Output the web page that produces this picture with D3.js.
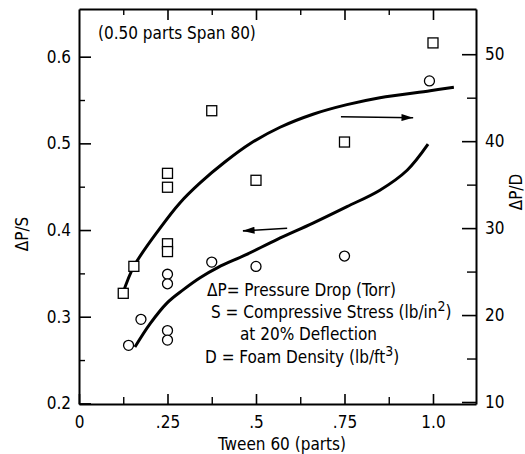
<!DOCTYPE html>
<html><head><meta charset="utf-8">
<script src="https://cdn.jsdelivr.net/npm/d3@7"></script>
<style>
body{margin:0;background:#fff}
svg{display:block;background:#fff}
text{font-family:"Liberation Sans Narrow","DejaVu Sans Condensed","Arial Narrow",sans-serif;fill:#000}
</style>
</head><body>
<svg id="c" width="525" height="454"></svg>
<script>
// ---------- data ----------
const xTicks = [0, 0.25, 0.5, 0.75, 1.0];
const xTickLabels = ["0", ".25", ".5", ".75", "1.0"];
const xMinor = [0.125, 0.375, 0.625, 0.875];
const leftTicks = [0.2, 0.3, 0.4, 0.5, 0.6];
const leftTickLabels = ["0.2", "0.3", "0.4", "0.5", "0.6"];
const leftMinor = [0.25, 0.35, 0.45, 0.55];
const rightTicks = [10, 20, 30, 40, 50];
const rightMinor = [15, 25, 35, 45];

// ΔP/D (squares, right axis)
const squareX = [0.125, 0.155, 0.25, 0.25, 0.25, 0.25, 0.375, 0.5, 0.75, 1.0];
const squareY = [22.5, 25.6, 36.3, 34.7, 28.2, 27.3, 43.5, 35.5, 39.9, 51.3];
// ΔP/S (circles, left axis)
const circleX = [0.14, 0.175, 0.25, 0.25, 0.25, 0.25, 0.375, 0.5, 0.75, 0.99];
const circleY = [0.267, 0.297, 0.349, 0.338, 0.284, 0.273, 0.363, 0.358, 0.370, 0.572];

// fitted curves
const curveDX = [0.124, 0.155, 0.229, 0.285, 0.342, 0.412, 0.483, 0.568, 0.661, 0.757, 0.850, 0.992, 1.059];
const curveDY = [22.5, 25.6, 30.0, 32.9, 35.2, 37.6, 39.7, 41.6, 43.1, 44.2, 45.0, 45.8, 46.2];
const curveSX = [0.158, 0.201, 0.249, 0.294, 0.342, 0.393, 0.469, 0.559, 0.661, 0.757, 0.850, 0.927, 0.986];
const curveSY = [0.265, 0.292, 0.316, 0.331, 0.345, 0.357, 0.371, 0.389, 0.408, 0.427, 0.446, 0.469, 0.499];

// arrows: [x1, y1, x2, y2] (tip at x2,y2)
const arrowD = [0.74, 42.8, 0.944, 42.7];
const arrowS = [0.588, 0.402, 0.463, 0.399];

// ---------- layout ----------
const L = 79, R = 476, T = 9, B = 404;
const svg = d3.select("#c");
const x = d3.scaleLinear().domain([0, 1.1215]).range([L, R]);
const yS = d3.scaleLinear().domain([0.1993, 0.655]).range([B, T]);
const yD = d3.scaleLinear().domain([9.77, 55.2]).range([B, T]);

const fs = 17;

function styleAxis(g) {
  g.selectAll("path.domain").attr("stroke", "#000").attr("stroke-width", 2);
  g.selectAll(".tick line").attr("stroke", "#000").attr("stroke-width", 1.6);
  g.selectAll(".tick text").attr("font-size", fs).attr("font-family", null);
}
function minor(axis, vals, size, tr) {
  svg.append("g").attr("transform", tr)
    .call(axis.tickValues(vals).tickSize(size).tickFormat(""))
    .call(g => { g.select(".domain").remove(); g.selectAll(".tick line").attr("stroke", "#000").attr("stroke-width", 1.4); });
}

// bottom axis
svg.append("g").attr("transform", `translate(0,${B})`)
  .call(d3.axisBottom(x).tickValues(xTicks).tickFormat((d, i) => xTickLabels[i]).tickSizeInner(-10).tickSizeOuter(0).tickPadding(12))
  .call(styleAxis);
minor(d3.axisBottom(x), xMinor, -7, `translate(0,${B})`);
// top axis
svg.append("g").attr("transform", `translate(0,${T})`)
  .call(d3.axisTop(x).tickValues(xTicks.slice(1)).tickFormat("").tickSizeInner(-11).tickSizeOuter(0))
  .call(styleAxis);
minor(d3.axisTop(x), xMinor, -6, `translate(0,${T})`);
// left axis
svg.append("g").attr("transform", `translate(${L},0)`)
  .call(d3.axisLeft(yS).tickValues(leftTicks).tickFormat((d, i) => leftTickLabels[i]).tickSizeInner(-12).tickSizeOuter(0).tickPadding(8))
  .call(styleAxis);
minor(d3.axisLeft(yS), leftMinor, -6, `translate(${L},0)`);
// right axis
svg.append("g").attr("transform", `translate(${R},0)`)
  .call(d3.axisRight(yD).tickValues(rightTicks).tickSizeInner(-14).tickSizeOuter(0).tickPadding(9))
  .call(styleAxis);
minor(d3.axisRight(yD), rightMinor, -9, `translate(${R},0)`);

// axis titles
svg.append("text").attr("transform", `translate(28,234) rotate(-90)`)
  .attr("text-anchor", "middle").attr("font-size", fs).text("ΔP/S");
svg.append("text").attr("transform", `translate(522,192) rotate(-90)`)
  .attr("text-anchor", "middle").attr("font-size", fs).text("ΔP/D");
svg.append("text").attr("x", x(0.5)+26).attr("y", 450)
  .attr("text-anchor", "middle").attr("font-size", fs).text("Tween 60 (parts)");

// curves
const lineD = d3.line().x(d => x(d[0])).y(d => yD(d[1])).curve(d3.curveCatmullRom);
const lineS = d3.line().x(d => x(d[0])).y(d => yS(d[1])).curve(d3.curveCatmullRom);
svg.append("path").datum(curveDX.map((v, i) => [v, curveDY[i]])).attr("d", lineD)
  .attr("fill", "none").attr("stroke", "#000").attr("stroke-width", 3);
svg.append("path").datum(curveSX.map((v, i) => [v, curveSY[i]])).attr("d", lineS)
  .attr("fill", "none").attr("stroke", "#000").attr("stroke-width", 3);

// markers
svg.append("g").selectAll("rect").data(squareX.map((v, i) => [v, squareY[i]])).join("rect")
  .attr("x", d => x(d[0]) - 5).attr("y", d => yD(d[1]) - 5).attr("width", 10).attr("height", 10)
  .attr("fill", "#fff").attr("stroke", "#000").attr("stroke-width", 1.3);
svg.append("g").selectAll("circle").data(circleX.map((v, i) => [v, circleY[i]])).join("circle")
  .attr("cx", d => x(d[0])).attr("cy", d => yS(d[1])).attr("r", 5)
  .attr("fill", "#fff").attr("stroke", "#000").attr("stroke-width", 1.3);

// arrows
const defs = svg.append("defs");
defs.append("marker").attr("id", "ah").attr("viewBox", "0 0 10 6").attr("refX", 10).attr("refY", 3)
  .attr("markerUnits", "userSpaceOnUse").attr("markerWidth", 12).attr("markerHeight", 7).attr("orient", "auto")
  .append("path").attr("d", "M0,0 L10,3 L0,6 Z").attr("fill", "#000");
function arrow(a, ys) {
  svg.append("line").attr("x1", x(a[0])).attr("y1", ys(a[1])).attr("x2", x(a[2])).attr("y2", ys(a[3]))
    .attr("stroke", "#000").attr("stroke-width", 1.6).attr("marker-end", "url(#ah)");
}
arrow(arrowD, yD);
arrow(arrowS, yS);

// annotations
svg.append("text").attr("x", 98).attr("y", 39).attr("font-size", fs).text("(0.50 parts Span 80)");
const leg = svg.append("g").attr("font-size", fs);
leg.append("text").attr("x", 207).attr("y", 296).text("ΔP= Pressure Drop (Torr)");
const t2 = leg.append("text").attr("x", 211).attr("y", 318);
t2.append("tspan").text("S = Compressive Stress (lb/in");
t2.append("tspan").attr("dy", -7).attr("font-size", 14).text("2");
t2.append("tspan").attr("dy", 7).text(")");
leg.append("text").attr("x", 240).attr("y", 340).text("at 20% Deflection");
const t4 = leg.append("text").attr("x", 205).attr("y", 363);
t4.append("tspan").text("D = Foam Density (lb/ft");
t4.append("tspan").attr("dy", -7).attr("font-size", 14).text("3");
t4.append("tspan").attr("dy", 7).text(")");
</script>
</body></html>
